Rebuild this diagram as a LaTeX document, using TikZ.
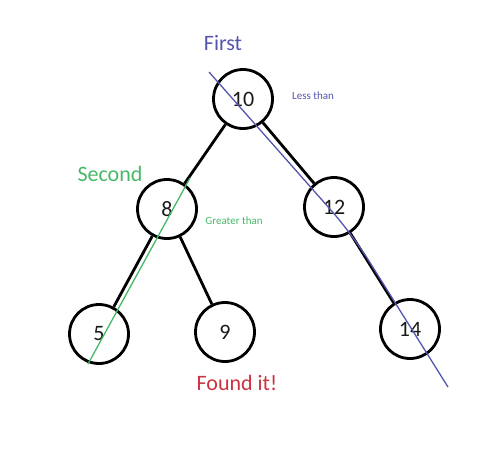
\documentclass[tikz,border=0pt]{standalone}
\usepackage{fontspec}
\setmainfont{Carlito}
\definecolor{markblue}{RGB}{85,85,175}
\definecolor{markgreen}{RGB}{70,185,105}
\definecolor{markred}{RGB}{205,50,65}
\definecolor{ink}{RGB}{25,25,25}
\begin{document}
\begin{tikzpicture}[x=1pt,y=-1pt,
  treenode/.style={circle,draw=black,line width=2.8pt,minimum size=59pt,inner sep=0pt,font=\fontsize{22}{24}\selectfont,text=ink},
  edgeline/.style={draw=black,line width=2.8pt},
  bigtext/.style={font=\fontsize{22}{24}\selectfont,inner sep=0pt},
  smalltext/.style={font=\fontsize{11}{12}\selectfont,inner sep=0pt},
  markline/.style={line width=1.3pt}]
\useasboundingbox (0,0) rectangle (490,450);
\node[treenode] (n10) at (243,99) {10};
\node[treenode] (n8) at (167,209) {8};
\node[treenode] (n12) at (334,207) {12};
\node[treenode] (n5) at (99,334) {5};
\node[treenode] (n9) at (225,332) {9};
\node[treenode] (n14) at (410,329) {14};
\draw[edgeline] (n10) -- (n8);
\draw[edgeline] (n10) -- (n12);
\draw[edgeline] (n8) -- (n5);
\draw[edgeline] (n8) -- (n9);
\draw[edgeline] (n12) -- (n14);
\coordinate (b1) at (209,72);
\coordinate (bk) at (352,234);
\coordinate (b2) at (448,387);
\coordinate (g1) at (190,178);
\coordinate (g2) at (88,364);
\draw[markline,markblue,rounded corners=30pt] (b1) -- (bk) -- (b2);
\draw[markline,markgreen] (g1) -- (g2);
\node[bigtext,text=markblue] (first) at (223,43) {First};
\node[smalltext,text=markblue] (less) at (313,96) {Less than};
\node[bigtext,text=markgreen] (second) at (110,174) {Second};
\node[smalltext,text=markgreen] (greater) at (234,221) {Greater than};
\node[bigtext,text=markred] (found) at (237,383) {Found it!};
\end{tikzpicture}
\end{document}
